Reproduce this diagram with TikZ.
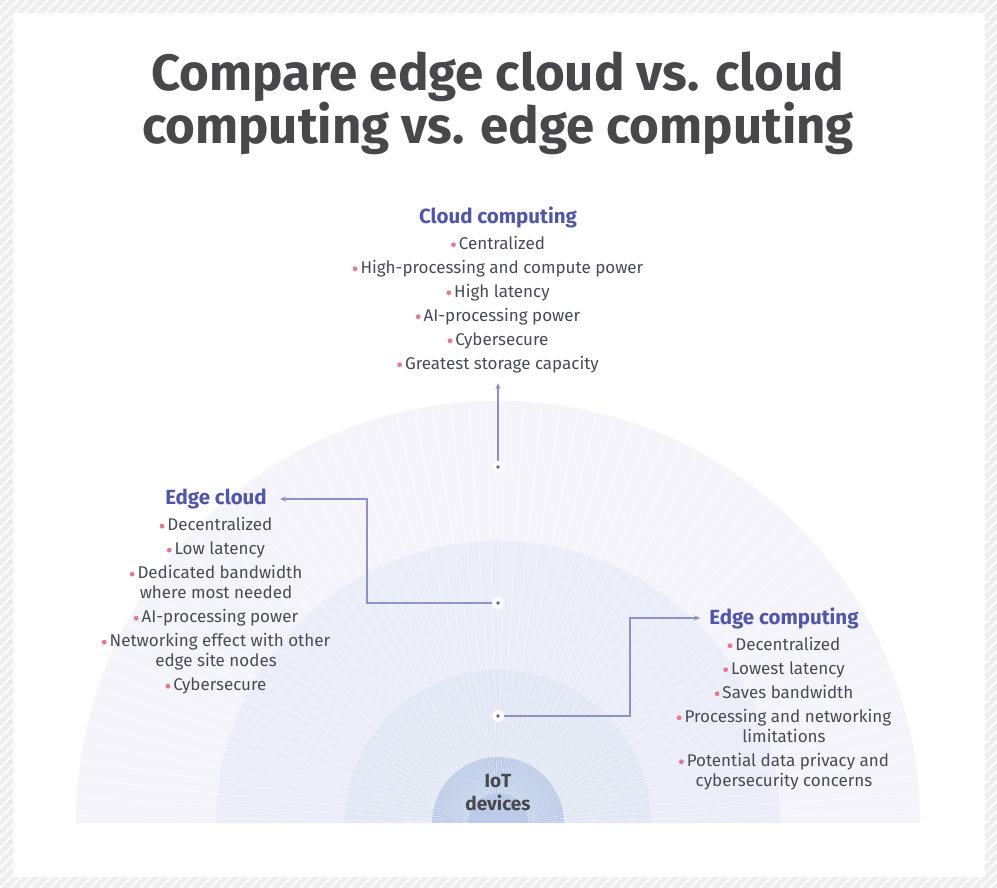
\documentclass[tikz,border=0pt]{standalone}
\usepackage{fontspec}
\setmainfont{Fira Sans}
\usepackage{xcolor}
\usepackage{tikz}
\usetikzlibrary{calc,arrows.meta,positioning}

\definecolor{hatchgray}{HTML}{EEEEEE}
\definecolor{titlegray}{HTML}{48484C}
\definecolor{textgray}{HTML}{4A4A55}
\definecolor{headblue}{HTML}{5156A6}
\definecolor{linkblue}{HTML}{8E91C6}
\definecolor{dotblue}{HTML}{5A5FAF}
\definecolor{bulpink}{HTML}{E5788C}
\definecolor{ringa}{HTML}{F4F4FA}
\definecolor{ringb}{HTML}{EBEEF8}
\definecolor{ringc}{HTML}{E2E8F4}
\definecolor{ringd}{HTML}{BACAE8}

\newcommand{\bl}{\tikz[baseline=-4.5pt]\fill[bulpink] (0pt,0pt) circle (2.4pt);\hspace{3pt}}

\begin{document}
\begin{tikzpicture}[x=1pt,y=1pt]
			\tikzstyle{heading}=[font=\fontsize{20.5}{24}\selectfont\bfseries, text=headblue, inner sep=0pt]
			\tikzstyle{items}=[font=\fontsize{17}{20}\selectfont, text=textgray, align=center, inner sep=0pt]
			\tikzstyle{hub}=[circle, fill=white, minimum size=12pt, inner sep=0pt]
			\tikzstyle{link}=[draw=linkblue, line width=1.2pt, -{Stealth[length=6pt,width=5pt]}]
			\useasboundingbox (0,0) rectangle (997,888);
			% hatched frame
			\fill[hatchgray] (0,0) rectangle (997,888);
			\begin{scope}
				\clip (0,0) rectangle (997,888);
				\foreach \i in {-900,-890,...,1000}
					\draw[white, line width=1.6pt] (\i,0) -- ++(888,888);
			\end{scope}
			\fill[white] (13,11) rectangle (985,875);
			% rings
			\coordinate (c) at (498,65);
			\fill[ringa] (76,65) arc[start angle=180, end angle=0, radius=422] -- cycle;
			\fill[ringb] (216,65) arc[start angle=180, end angle=0, radius=282] -- cycle;
			\fill[ringc] (345,65) arc[start angle=180, end angle=0, radius=153] -- cycle;
			\fill[ringd] (432,65) arc[start angle=180, end angle=0, radius=66] -- cycle;
			\begin{scope}
				\clip (76,65) arc[start angle=180, end angle=0, radius=422] -- cycle;
				\foreach \a in {1.5,4,...,180}
					\draw[white, opacity=0.45, line width=0.7pt] ($(c)+(\a:30)$) -- ++(\a:400);
			\end{scope}
			% title
			\node[font=\fontsize{51}{53}\selectfont\bfseries, text=titlegray, align=center] (title) at (498,785)
				{Compare edge cloud vs. cloud\\computing vs. edge computing};
			% hubs
			\node[hub] (hubcloud) at (498,421) {};
			\node[hub] (hubedge) at (498,285) {};
			\node[hub] (hubdev) at (498,172) {};
			\foreach \h in {hubcloud,hubedge,hubdev}
				\fill[dotblue] (\h) circle (1.8pt);
			% cloud computing
			\node[heading] (cloud) at (498,671) {Cloud computing};
			\node[items, below=8pt of cloud] (cloudlist) {\bl Centralized\\[4pt]
				\bl High-processing and compute power\\[4pt]
				\bl High latency\\[4pt]
				\bl AI-processing power\\[4pt]
				\bl Cybersecure\\[4pt]
				\bl Greatest storage capacity};
			% edge cloud
			\node[heading] (edgecloud) at (216,389) {Edge cloud};
			\node[items, below=8pt of edgecloud] (edgecloudlist) {\bl Decentralized\\[4pt]
				\bl Low latency\\[4pt]
				\bl Dedicated bandwidth\\where most needed\\[4pt]
				\bl AI-processing power\\[4pt]
				\bl Networking effect with other\\edge site nodes\\[4pt]
				\bl Cybersecure};
			% edge computing
			\node[heading] (edgecomp) at (784,270) {Edge computing};
			\node[items, below=8pt of edgecomp] (edgecomplist) {\bl Decentralized\\[4pt]
				\bl Lowest latency\\[4pt]
				\bl Saves bandwidth\\[4pt]
				\bl Processing and networking\\limitations\\[4pt]
				\bl Potential data privacy and\\cybersecurity concerns};
			% IoT devices
			\node[font=\fontsize{19}{23}\selectfont\bfseries, text=titlegray, align=center, inner sep=0pt] (iot) at (498,95) {IoT\\devices};
			% connectors
			\coordinate (cloudtip) at (498,505);
			\draw[link] (hubcloud) -- (cloudtip);
			\draw[link] (hubedge) -| (367,389) -- ([xshift=13pt]edgecloud.east);
			\draw[link] (hubdev) -| (630,270) -- ([xshift=-9pt]edgecomp.west);
		\end{tikzpicture}
\end{document}
